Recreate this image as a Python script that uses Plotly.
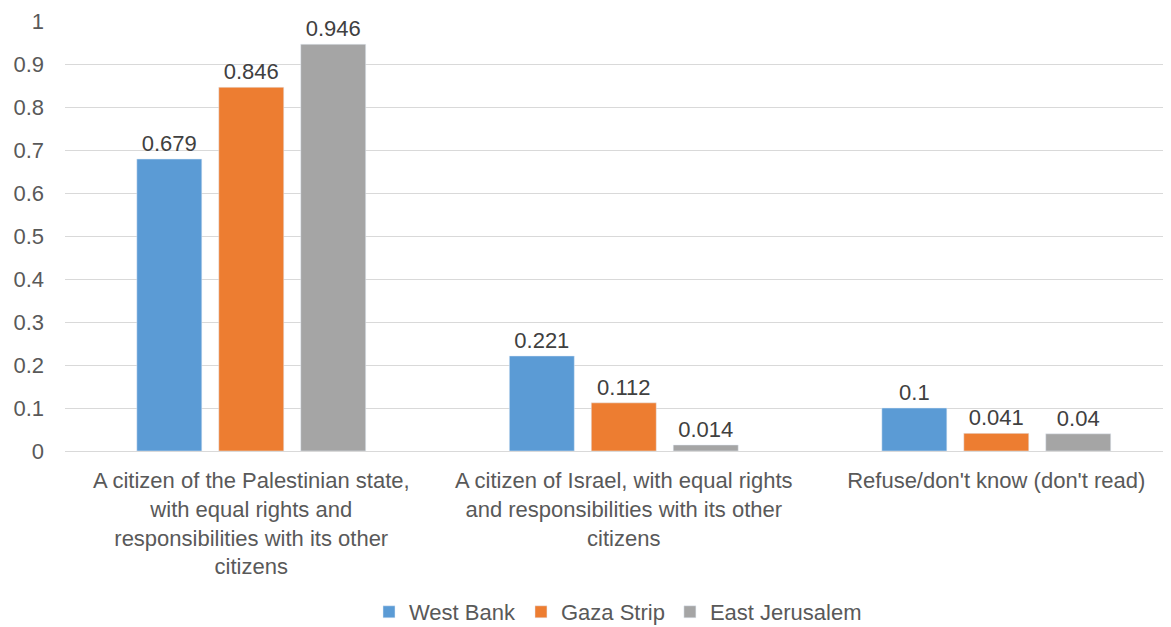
import plotly.graph_objects as go

categories = [
    "A citizen of the Palestinian state,<br>with equal rights and<br>responsibilities with its other<br>citizens",
    "A citizen of Israel, with equal rights<br>and responsibilities with its other<br>citizens",
    "Refuse/don't know (don't read)",
]
series_names = ["West Bank", "Gaza Strip", "East Jerusalem"]
west_bank = [0.679, 0.221, 0.1]
gaza_strip = [0.846, 0.112, 0.041]
east_jerusalem = [0.946, 0.014, 0.04]
colors = ["#5B9BD5", "#ED7D31", "#A5A5A5"]
y_ticks = [0, 0.1, 0.2, 0.3, 0.4, 0.5, 0.6, 0.7, 0.8, 0.9, 1]
y_tick_labels = ["0", "0.1", "0.2", "0.3", "0.4", "0.5", "0.6", "0.7", "0.8", "0.9", "1"]

FONT = "Liberation Sans, Arial, sans-serif"
FS = 22

fig = go.Figure()
for name, vals, col in zip(series_names, [west_bank, gaza_strip, east_jerusalem], colors):
    fig.add_trace(go.Bar(
        x=categories, y=vals, name=name, marker_color=col,
        text=[f"{v:g}" for v in vals], textposition="outside",
        textfont=dict(size=FS, color="#404040", family=FONT),
        cliponaxis=False,
    ))

fig.update_layout(
    width=1171, height=627,
    margin=dict(l=57, r=8, t=13, b=184),
    paper_bgcolor="white", plot_bgcolor="white",
    barmode="group", bargap=0.34, bargroupgap=0.207,
    font=dict(family=FONT, size=FS, color="#595959"),
    showlegend=True,
    legend=dict(orientation="h", x=0.5, xanchor="center", yref="container", y=0.0367, yanchor="middle",
                font=dict(size=FS, color="#595959"), itemwidth=30, traceorder="normal"),
    xaxis=dict(range=[-0.5, 2.469], showgrid=False, showline=True, linecolor="#d9d9d9", linewidth=1,
               tickfont=dict(size=FS, color="#595959"), ticks="", automargin=False,
               ticklabelstandoff=10),
    yaxis=dict(range=[0, 1], tickvals=y_ticks, ticktext=y_tick_labels,
               showgrid=True, gridcolor="#d9d9d9", gridwidth=1, zeroline=False,
               tickfont=dict(size=FS, color="#595959"), ticks="", ticklabelstandoff=20,
               automargin=False),
)

fig.write_html("out.html")
